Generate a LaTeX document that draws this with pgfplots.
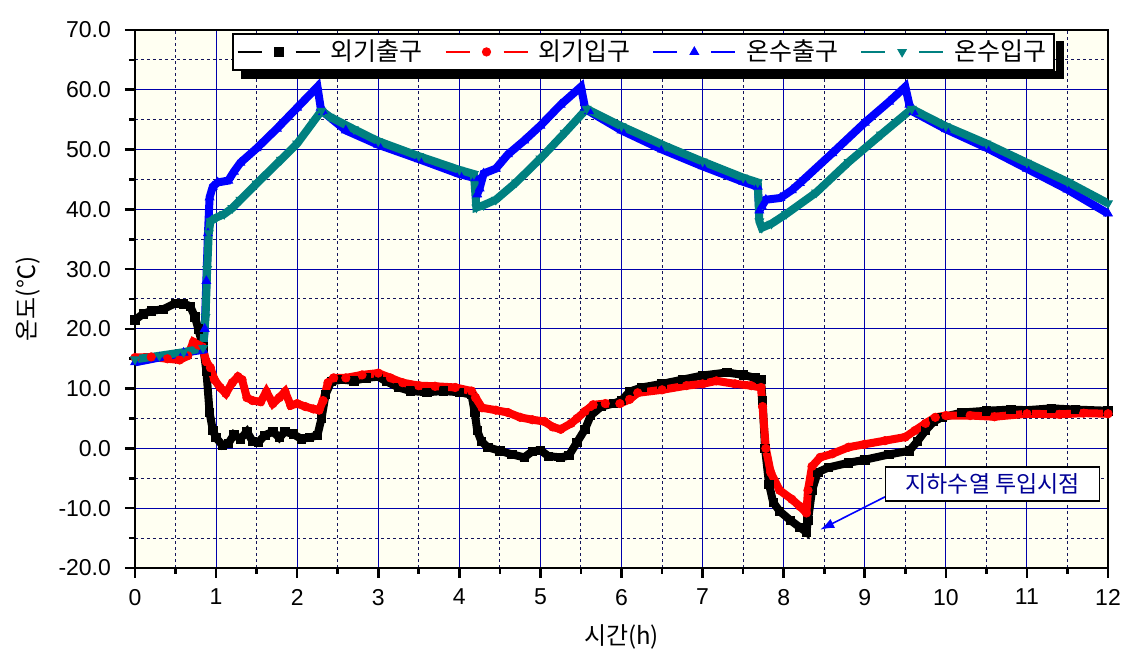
\documentclass[border=0pt]{standalone}
\usepackage{pgfplots}
\pgfplotsset{compat=1.18}
\usepackage{fontspec}
\setmainfont{Liberation Sans}
\newfontfamily\kr{Noto Sans CJK KR}
\usetikzlibrary{arrows.meta}
\definecolor{tealc}{RGB}{0,128,128}
\definecolor{majgrid}{RGB}{0,0,170}
\definecolor{mingrid}{RGB}{20,20,90}
\definecolor{annblue}{RGB}{0,0,150}
\definecolor{bgc}{RGB}{255,255,242}

\begin{document}
\begin{tikzpicture}
\begin{axis}[
  scale only axis,
  width=486.5pt, height=269pt,
  xmin=0, xmax=12, ymin=-20, ymax=70,
  xtick={0,1,...,12}, ytick={-20,-10,...,70},
  minor x tick num=1, minor y tick num=1,
  grid=both,
  major grid style={majgrid, line width=0.5pt},
  minor grid style={mingrid, line width=0.5pt, dash pattern=on 1.5pt off 1.5pt},
  axis background/.style={fill=bgc},
  axis line style={line width=1.3pt},
  tick align=outside,
  xtick pos=bottom, ytick pos=left,
  major tick length=5pt, minor tick length=3pt,
  tick style={line width=1.3pt, black},
  /pgf/number format/assume math mode=true,
  ticklabel style={font=\fontsize{11.5}{13}\selectfont},
  yticklabel style={xshift=-3.5pt, /pgf/number format/.cd, fixed, fixed zerofill, precision=1},
  xticklabel style={yshift=-2pt, /pgf/number format/.cd, fixed, precision=0},
  xlabel={\kr 시간(h)},
  ylabel={\kr 온도(℃)},
  xlabel style={at={(axis description cs:0.5,-0.128)}, anchor=center, font=\fontsize{12}{14}\selectfont},
  ylabel style={at={(axis description cs:-0.11,0.5)}, anchor=center, font=\fontsize{12}{14}\selectfont},
  legend columns=4,
  legend cell align=left,
  legend style={name=leg, at={(0.0997,0.994)}, anchor=north west, draw=black, line width=0.8pt, fill=white,
    font=\kr\fontsize{12.5}{14}\selectfont, inner xsep=2pt, inner ysep=1pt,
    /tikz/every odd column/.append style={column sep=3pt},
    /tikz/every even column/.append style={column sep=9pt}},
  legend image code/.code={
    \draw[line width=0.9pt] (0pt,0pt) -- (12pt,0pt);
    \draw[line width=0.9pt] (29pt,0pt) -- (41pt,0pt);
    \path plot coordinates {(20.5pt,0pt)};
  },
]
% 외기출구 (black)
\addplot[black, line width=4pt, mark=square*, mark size=2.1pt, mark options={line width=0.4pt, solid}] coordinates {
(0,21.5) (0.1,22.5) (0.2,23) (0.35,23.3) (0.5,24.3) (0.6,24.2) (0.68,23.8) (0.74,22) (0.78,20) (0.84,17)
(0.88,13) (0.92,6) (0.96,3) (1.0,1.8) (1.08,0.5) (1.15,0.8) (1.22,2.3) (1.3,1.6) (1.38,2.8) (1.45,1.2)
(1.52,1.0) (1.6,2.2) (1.7,2.8) (1.78,1.8) (1.85,2.8) (1.95,2.4) (2.05,1.6) (2.15,1.8) (2.25,2.2) (2.3,5)
(2.35,9) (2.42,11.2) (2.55,11.5) (2.7,11.3) (2.85,11.8) (3.0,12.0) (3.1,11.2) (3.25,10.2) (3.4,9.6) (3.6,9.4)
(3.8,9.6) (4.0,9.4) (4.15,9.0) (4.19,6) (4.22,3) (4.27,1.2) (4.35,0.2) (4.5,-0.4) (4.65,-1.0) (4.8,-1.5)
(4.9,-0.5) (5.0,-0.3) (5.1,-1.3) (5.25,-1.5) (5.35,-1.2) (5.45,1.0) (5.55,3.2) (5.62,5.5) (5.75,7) (5.9,7.5)
(6.0,8) (6.1,9.5) (6.25,10.2) (6.5,10.8) (6.75,11.5) (7.0,12.2) (7.3,12.7) (7.5,12.3) (7.65,11.8) (7.72,11.5)
(7.74,8) (7.77,0) (7.82,-6) (7.87,-9) (7.95,-10.5) (8.08,-12) (8.2,-13.2) (8.28,-14.0) (8.3,-12) (8.35,-7)
(8.42,-4) (8.55,-3.2) (8.8,-2.4) (9.0,-1.9) (9.3,-1.0) (9.55,-0.4) (9.65,1.2) (9.75,3) (9.85,4.5) (9.95,5.2)
(10.2,6) (10.5,6.3) (10.8,6.5) (11.0,6.4) (11.3,6.7) (11.6,6.5) (12,6.3)
};
\addlegendentry{외기출구}
% 외기입구 (red)
\addplot[red, line width=4pt, mark=*, mark size=2.1pt, mark options={line width=0.4pt, solid}] coordinates {
(0,15.2) (0.2,15.3) (0.4,15.0) (0.55,14.8) (0.65,15.5) (0.72,17.8) (0.78,17.3) (0.83,17) (0.88,14.5) (0.93,13.5)
(0.98,11.5) (1.05,10.2) (1.12,9.2) (1.2,11) (1.27,12) (1.32,11.5) (1.38,8.5) (1.45,8) (1.55,7.8) (1.62,9.5)
(1.7,7.5) (1.78,8.5) (1.85,9.5) (1.92,7.2) (2.0,7.5) (2.1,7) (2.2,6.6) (2.27,6.4) (2.32,8) (2.38,11)
(2.45,11.8) (2.6,11.8) (2.8,12.3) (3.0,12.6) (3.15,11.8) (3.3,11.0) (3.5,10.5) (3.7,10.4) (3.95,10.2) (4.15,9.6)
(4.2,8.5) (4.28,6.8) (4.45,6.4) (4.6,6.0) (4.75,5.2) (4.9,4.8) (5.05,4.5) (5.15,3.6) (5.25,3.2) (5.38,4.2)
(5.45,5) (5.55,6.2) (5.65,7.3) (5.8,7.5) (5.98,7.5) (6.1,8.2) (6.2,9.3) (6.5,9.8) (6.8,10.5) (7.0,10.8)
(7.17,11.3) (7.4,10.8) (7.6,10.5) (7.72,10.2) (7.74,7) (7.78,0) (7.84,-4) (7.95,-7) (8.1,-8.5) (8.2,-9.7)
(8.28,-10.8) (8.3,-7) (8.35,-3) (8.45,-1.5) (8.6,-0.9) (8.8,0.2) (9.0,0.7) (9.25,1.3) (9.5,1.9) (9.62,3)
(9.75,4.2) (9.87,5.2) (10.0,5.5) (10.3,5.5) (10.6,5.3) (11.0,5.8) (11.4,5.7) (11.7,5.9) (12,5.8)
};
\addlegendentry{외기입구}
% 온수출구 (blue)
\addplot[blue, line width=4pt, mark=triangle*, mark size=2.5pt, mark options={line width=0.4pt, solid}] coordinates {
(0,14.4) (0.3,15.2) (0.6,16) (0.84,16.5) (0.86,20) (0.88,28) (0.9,36) (0.92,42) (0.96,43.8) (1.02,44.5)
(1.15,44.8) (1.22,46.3) (1.3,47.8) (1.5,50.2) (1.75,53.5) (2.0,57) (2.25,60.5) (2.29,57) (2.32,56.3) (2.6,53.2)
(3.0,50.8) (3.5,48.4) (4.0,45.9) (4.2,45.2) (4.22,42.5) (4.25,43.5) (4.3,46) (4.45,46.8) (4.6,49.2) (4.8,51.5)
(5.0,54) (5.25,57.5) (5.5,60.5) (5.55,57) (5.6,56.4) (6.0,53.2) (6.5,50.0) (7.0,47.2) (7.5,44.6) (7.68,43.8)
(7.7,39.8) (7.73,40.5) (7.78,41.6) (7.96,41.9) (8.1,43.2) (8.2,44.4) (8.6,49.4) (9.0,54.5) (9.3,58) (9.5,60.5)
(9.55,57.5) (9.6,56.3) (10.0,53.4) (10.5,50.3) (11.0,46.8) (11.5,43.3) (12,39.3)
};
\addlegendentry{온수출구}
% 온수입구 (teal)
\addplot[tealc, line width=4pt, mark=triangle*, mark size=2.5pt, mark options={line width=0.4pt, solid, rotate=180}] coordinates {
(0,14.9) (0.3,15.5) (0.6,16.1) (0.84,16.8) (0.87,22) (0.89,30) (0.91,36) (0.93,38) (1.0,38.6) (1.1,39.2)
(1.2,40.2) (1.3,41.6) (1.5,44.3) (1.8,48.3) (2.0,51) (2.3,56.5) (2.4,55.5) (2.7,53.4) (3.0,51.4) (3.5,48.9)
(4.0,46.6) (4.18,45.9) (4.21,40.3) (4.3,40.7) (4.45,41.6) (4.7,44.5) (5.0,48.5) (5.3,52.8) (5.57,56.8) (6.0,53.9)
(6.54,50.6) (7.0,48) (7.5,45.3) (7.68,44.5) (7.7,38) (7.73,36.9) (7.85,37.6) (8.03,39.2) (8.4,42.8) (8.8,47.9)
(9.2,52.5) (9.58,56.8) (10.0,53.9) (10.5,51) (11.0,47.8) (11.5,44.6) (12,41.0)
};
\addlegendentry{온수입구}
\draw[-{Latex[length=7pt,width=5pt]}, blue, line width=0.8pt] (axis cs:9.25,-8.1) -- (axis cs:8.45,-13.6);
\node[draw=black, line width=0.6pt, fill=white, text=annblue, font=\kr\fontsize{11.5}{13}\selectfont,
  minimum width=107pt, minimum height=17pt, inner sep=2pt] at (axis cs:10.58,-5.95) {지하수열 투입시점};
\end{axis}
% legend drop shadow: only the exposed right and bottom strips
\fill[black] ([shift={(0.4pt,-4pt)}]leg.north east) rectangle ([shift={(4.5pt,-4pt)}]leg.south east);
\fill[black] ([shift={(4.5pt,-0.4pt)}]leg.south west) rectangle ([shift={(4.5pt,-4pt)}]leg.south east);
\pgfresetboundingbox
\path ([shift={(-67.5pt,-49pt)}]current axis.south west) rectangle ([shift={(18.5pt,15pt)}]current axis.north east);
\end{tikzpicture}
\end{document}
